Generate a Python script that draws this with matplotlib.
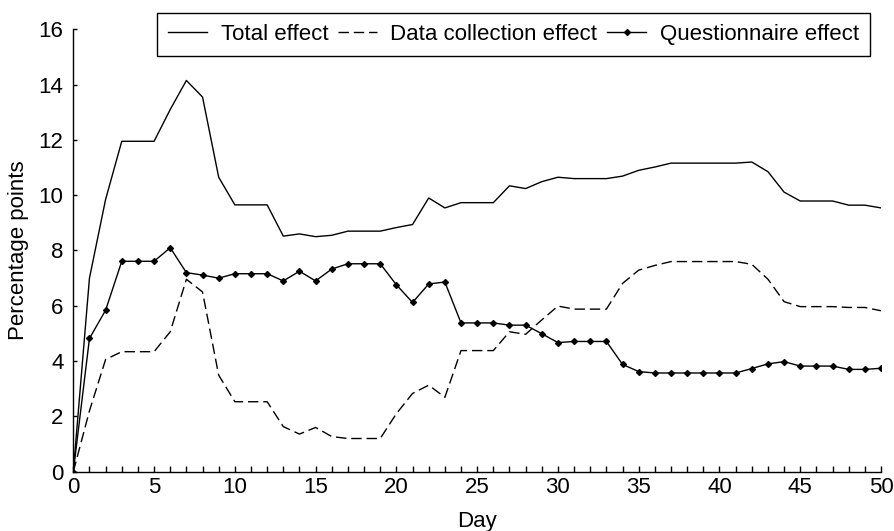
import numpy as np
import matplotlib
matplotlib.use("Agg")
import matplotlib.pyplot as plt
from matplotlib.ticker import MultipleLocator

plt.rcParams['font.family'] = ['Liberation Sans', 'DejaVu Sans']

days = np.arange(0, 51)

total_effect = [0, 7.0, 9.85, 11.95, 11.95, 11.95, 13.1, 14.15, 13.55, 10.65,
                9.65, 9.65, 9.65, 8.52, 8.6, 8.5, 8.55, 8.7, 8.7, 8.7,
                8.83, 8.94, 9.9, 9.54, 9.73, 9.73, 9.73, 10.34, 10.24, 10.49,
                10.65, 10.6, 10.6, 10.6, 10.69, 10.9, 11.02, 11.16, 11.16, 11.16,
                11.16, 11.16, 11.2, 10.85, 10.11, 9.79, 9.79, 9.79, 9.64, 9.64,
                9.54]

data_collection_effect = [0, 2.2, 4.06, 4.34, 4.34, 4.34, 5.06, 6.96, 6.5, 3.49,
                          2.53, 2.53, 2.53, 1.63, 1.36, 1.6, 1.27, 1.2, 1.2, 1.2,
                          2.1, 2.83, 3.13, 2.69, 4.38, 4.38, 4.38, 5.06, 4.97, 5.49,
                          5.99, 5.88, 5.88, 5.88, 6.81, 7.29, 7.46, 7.6, 7.6, 7.6,
                          7.6, 7.6, 7.5, 6.96, 6.15, 5.97, 5.97, 5.97, 5.94, 5.94,
                          5.82]

questionnaire_effect = [0, 4.82, 5.84, 7.61, 7.61, 7.61, 8.1, 7.2, 7.11, 7.0,
                        7.16, 7.16, 7.16, 6.9, 7.25, 6.9, 7.33, 7.52, 7.52, 7.52,
                        6.76, 6.12, 6.79, 6.86, 5.38, 5.38, 5.38, 5.3, 5.3, 4.99,
                        4.67, 4.71, 4.71, 4.71, 3.88, 3.62, 3.57, 3.57, 3.57, 3.57,
                        3.57, 3.57, 3.73, 3.9, 3.98, 3.82, 3.82, 3.82, 3.7, 3.7,
                        3.74]

fig = plt.figure(figsize=(8.95, 5.31), dpi=100)
ax = fig.add_axes([0.0819, 0.1117, 0.9025, 0.8331])

ax.plot(days, total_effect, color='black', lw=1.0, label='Total effect')
ax.plot(days, data_collection_effect, color='black', lw=1.0,
        dashes=(7.5, 3.5), label='Data collection effect')
ax.plot(days, questionnaire_effect, color='black', lw=1.0, marker='D',
        ms=3.0, label='Questionnaire effect')

ax.set_xlim(0, 50)
ax.set_ylim(0, 16)
ax.xaxis.set_major_locator(MultipleLocator(5))
ax.xaxis.set_minor_locator(MultipleLocator(1))
ax.yaxis.set_major_locator(MultipleLocator(2))

for side in ['top', 'right']:
    ax.spines[side].set_visible(False)
for side in ['left', 'bottom']:
    ax.spines[side].set_linewidth(1.0)

ax.tick_params(axis='x', which='both', direction='in', length=4, width=1,
               labelsize=16, pad=4)
ax.tick_params(axis='y', which='both', direction='in', length=3, width=1,
               labelsize=16, pad=7)

ax.set_xlabel('Day', fontsize=16, labelpad=9)
ax.set_ylabel('Percentage points', fontsize=16, labelpad=7)

leg = fig.legend(loc='upper right', bbox_to_anchor=(0.972, 0.9755), ncol=3,
                 fontsize=16, frameon=True, fancybox=False, framealpha=1,
                 edgecolor='black', borderaxespad=0, handlelength=1.75,
                 handletextpad=0.6, columnspacing=0.45, borderpad=0.5)
leg.get_frame().set_linewidth(1.0)

fig.savefig('out.png', dpi=100)
